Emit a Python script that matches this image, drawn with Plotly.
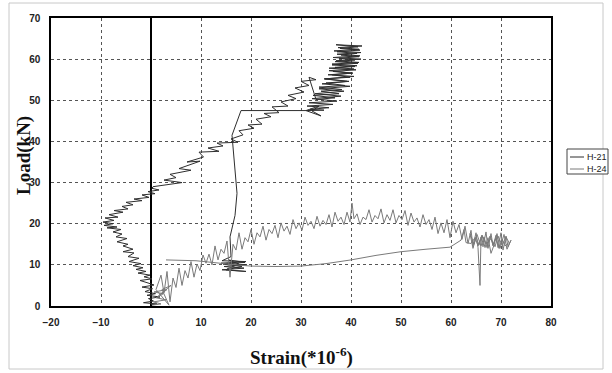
import plotly.graph_objects as go

# ---------------- data ----------------
h21_x = [0, 1.2, -1.5, 0.5, -0.5, 1.8, -0.8, 0.9, -1.2, 0.3, -1.8, 0.6, -0.6, -2.2, 0.2, -1.4, -0.2, -2.6, -1.0, -3.0, -1.6, -3.6, -2.0,
         -4.4, -2.4, -4.6, -3.4, -5.6, -3.6, -5.6, -4.6, -6.8, -4.8, -7.0, -5.8, -7.6, -6.0, -8.8, -6.8, -9.4, -7.6, -9.6, -7.4, -9.2,
         -6.6, -8.4, -5.6, -7.4, -4.6, -5.8, -3.6, -5.0, -1.8, -3.4, -0.4, -1.8, 0.8, -0.6, 1.6, 0.2,
         0.4, 6.2, 2.6, 5.0, 3.8, 8.0, 5.6, 9.8, 7.2, 10.5, 9.6, 13.6, 11.4, 14.4, 13.2, 17.4, 16.0, 18.4, 17.6, 20.6, 19.4, 22.2,
         21.0, 24.0, 22.6, 25.6, 24.2, 27.4, 26.0, 29.0, 27.4, 30.6, 28.8, 31.6, 30.0, 33.0, 31.6,
         33.0, 36.8, 32.4, 37.6, 34.0, 38.2, 33.6, 38.8, 35.0, 39.2, 34.6, 39.8, 36.2, 40.2, 35.6, 40.6, 36.8, 41.2, 36.2, 41.6,
         37.0, 42.0, 36.4, 41.8, 37.2, 42.0, 36.6, 41.6, 37.4, 42.2, 37.0, 41.4, 37.8, 41.8, 37.2, 41.2, 38.0, 41.6, 37.6, 40.8,
         36.8, 41.4, 36.2, 40.8, 35.6, 41.0, 36.4, 40.4, 35.4, 40.6, 34.8, 39.6, 34.2, 39.8, 33.6, 38.6, 32.8, 38.0, 32.2, 37.2,
         31.6, 36.4, 31.2, 35.6, 31.8, 34.6, 31.0, 34.0, 32.2, 33.6, 31.0,
         18.0, 16.2, 17.2, 16.8, 15.8, 16.0,
         14.2, 19.0, 14.0, 19.2, 14.6, 18.6, 14.2, 19.0, 15.0, 18.2, 14.4, 18.8, 15.4, 17.6, 15.2]
h21_y = [0.3, 0.5, 0.8, 1.2, 1.8, 2.2, 2.6, 3.0, 3.5, 4.2, 4.6, 5.1, 5.6, 6.2, 6.6, 7.1, 7.5, 8.0, 8.4, 8.9, 9.3, 9.8, 10.3,
         10.8, 11.6, 12.0, 12.9, 13.2, 13.8, 14.6, 15.0, 15.6, 16.4, 16.8, 17.5, 18.0, 18.6, 19.0, 19.2, 19.6, 20.0, 20.4, 20.8, 21.4,
         21.6, 22.2, 22.8, 23.2, 23.6, 24.2, 24.6, 25.2, 25.6, 26.0, 26.4, 27.0, 27.3, 27.8, 28.2, 28.6,
         29.0, 30.0, 30.6, 31.2, 32.0, 33.0, 33.4, 35.2, 35.0, 36.2, 37.4, 37.6, 38.4, 38.9, 39.6, 39.8, 40.6, 41.6, 42.6, 43.2, 44.0, 44.2,
         45.4, 46.0, 46.8, 47.0, 48.4, 48.6, 49.6, 50.4, 51.2, 52.0, 53.0, 53.6, 54.6, 55.0, 55.6,
         50.2, 50.6, 51.2, 51.6, 52.2, 52.6, 53.2, 53.6, 54.2, 54.6, 55.2, 55.6, 56.2, 56.6, 57.2, 57.6, 58.0, 58.4, 58.8, 59.2,
         59.6, 60.0, 60.4, 60.8, 61.2, 61.6, 62.0, 62.4, 62.8, 63.2, 63.5, 63.0, 62.6, 62.2, 61.8, 61.4, 61.0, 60.6, 60.2, 59.8,
         59.4, 59.0, 58.6, 58.2, 57.8, 57.4, 57.0, 56.6, 56.2, 55.8, 55.2, 54.6, 54.0, 53.4, 52.8, 52.2, 51.6, 51.0, 50.4, 49.8,
         49.4, 49.0, 48.6, 48.2, 47.8, 47.6, 47.5, 46.2, 47.4, 48.6, 47.5,
         47.5, 41.5, 27.4, 22.0, 16.8, 12.0,
         11.0, 10.8, 10.4, 10.0, 9.6, 9.2, 8.8, 8.4, 8.8, 9.6, 10.2, 10.6, 11.2, 10.2, 9.0]

h24_x = [0.2, 2.0, 0.5, 3.0, 1.0, 2.5, 0.6, 3.2, 1.5, 4.0, 2.2, 3.6, 1.0, 2.0, 2.6, 3.2, 3.8, 4.4, 5.0, 5.6, 6.2, 6.8, 7.4, 8.0,
         8.6, 9.2, 9.8, 10.4, 11.0, 11.6, 12.2, 12.8, 13.4, 14.0, 14.6, 15.2, 15.8, 16.4, 17.0, 17.6, 18.2, 18.8, 19.4, 20.0,
         20.6, 21.2, 21.8, 22.4, 23.0, 23.6, 24.2, 24.8, 25.4, 26.0, 26.6, 27.2, 27.8, 28.4, 29.0, 29.6, 30.2, 30.8, 31.4, 32.0,
         32.6, 33.2, 33.8, 34.4, 35.0, 35.6, 36.2, 36.8, 37.4, 38.0, 38.6, 39.2, 39.8, 40.2, 40.6, 41.2, 41.8, 42.4, 43.0, 43.6,
         44.2, 44.8, 45.4, 46.0, 46.6, 47.2, 47.8, 48.4, 49.0, 49.6, 50.2, 50.8, 51.4, 52.0, 52.6, 53.2, 53.8, 54.4, 55.0, 55.6,
         56.2, 56.8, 57.4, 58.0, 58.6, 59.2, 59.8, 60.4, 61.0, 61.6, 62.2, 62.8,
         63.4, 64.0, 64.4, 65.0, 65.4, 65.8, 66.0, 66.4, 67.0, 67.4, 68.0, 68.4, 69.0, 69.4, 70.0, 70.4, 71.0, 71.4, 72.0, 71.2,
         70.6, 69.8, 69.2, 68.6, 68.0, 67.4, 66.8, 66.2, 65.6, 65.0, 64.4, 63.8, 64.6, 65.2, 66.0, 66.6, 67.2, 67.8, 68.4, 69.0,
         69.6, 70.2, 70.8, 71.6, 71.0, 70.2, 69.4, 68.8, 68.0, 67.0, 66.2, 65.4, 64.8, 64.0, 63.0, 62.6, 62.0,
         61.2, 60.4, 59.8, 55.0, 50.0, 45.0, 40.0, 35.0, 30.0, 25.0, 20.0, 17.0, 12.0, 9.0, 3.0]
h24_y = [0.2, 0.5, 1.0, 1.5, 2.0, 3.0, 3.4, 4.0, 2.5, 5.0, 4.0, 0.2, 4.0, 7.5, 3.2, 8.4, 1.0, 6.8, 4.5, 9.2, 5.0, 8.6, 6.8, 10.8,
         7.0, 10.2, 8.6, 12.4, 10.4, 12.6, 10.0, 14.6, 11.2, 13.8, 12.8, 15.8, 7.0, 15.0, 13.6, 17.8, 13.8, 16.6, 15.6, 18.6,
         15.0, 17.8, 16.8, 19.4, 16.0, 18.6, 17.6, 19.6, 16.6, 20.2, 18.2, 19.4, 17.4, 21.0, 18.8, 20.2, 18.4, 21.6, 19.6, 20.6,
         18.8, 21.8, 19.4, 20.8, 19.8, 22.2, 19.2, 22.8, 20.6, 21.6, 19.8, 22.8, 20.4, 25.0, 21.2, 22.4, 19.8, 21.6, 21.0, 23.4,
         20.4, 22.0, 21.2, 23.6, 20.2, 22.2, 20.8, 23.4, 20.2, 22.0, 21.0, 23.2, 19.6, 22.6, 20.4, 21.4, 19.2, 22.2, 19.8, 21.0,
         18.6, 21.6, 17.6, 20.2, 17.8, 21.0, 16.6, 20.6, 17.8, 19.8, 16.2, 19.4,
         15.2, 18.4, 14.6, 17.8, 14.2, 5.0, 16.8, 14.4, 18.0, 14.0, 17.6, 14.6, 17.2, 14.2, 17.8, 13.6, 17.0, 14.4, 16.0, 13.8,
         17.4, 14.0, 17.6, 14.8, 12.8, 16.6, 14.2, 17.2, 14.8, 16.8, 14.0, 17.6, 15.0, 17.4, 14.6, 16.8, 14.2, 17.0, 14.8, 16.6,
         14.0, 16.2, 14.6, 15.4, 16.8, 14.8, 17.0, 14.4, 16.4, 15.0, 17.2, 14.6, 16.6, 15.2, 15.4, 18.6, 16.0,
         15.4, 14.6, 14.3, 13.8, 13.2, 12.3, 11.2, 10.3, 9.7, 9.6, 9.7, 10.0, 10.6, 11.0, 11.2]

series_names = ["H-21", "H-24"]
series_colors = ["#2e2e2e", "#7a7a7a"]

x_ticks = [-20, -10, 0, 10, 20, 30, 40, 50, 60, 70, 80]
y_ticks = [0, 10, 20, 30, 40, 50, 60, 70]

# ---------------- figure ----------------
fig = go.Figure()
for xs, ys, name, col in [(h21_x, h21_y, series_names[0], series_colors[0]),
                          (h24_x, h24_y, series_names[1], series_colors[1])]:
    fig.add_trace(go.Scatter(x=xs, y=ys, mode="lines", name=name,
                             line=dict(color=col, width=1), showlegend=False))

tickfont = dict(family="Liberation Sans, Arial, sans-serif", size=10, color="#222222", weight="bold")
titlefont = dict(family="Liberation Serif, Times New Roman, serif", size=19, color="#111111", weight="bold")

fig.update_layout(
    width=612, height=373,
    margin=dict(l=51, r=61, t=18, b=67),
    paper_bgcolor="white", plot_bgcolor="white",
    xaxis=dict(range=[-20, 80], tickvals=x_ticks, ticks="", tickfont=tickfont,
               showgrid=True, gridcolor="#555555", griddash="dot", gridwidth=1,
               zeroline=True, zerolinecolor="black", zerolinewidth=1.5,
               showline=True, linecolor="black", linewidth=1.5, mirror=True,
               ticklabelstandoff=6),
    yaxis=dict(range=[0, 70], tickvals=y_ticks, ticks="", tickfont=tickfont,
               showgrid=True, gridcolor="#555555", griddash="dot", gridwidth=1,
               zeroline=False,
               showline=True, linecolor="black", linewidth=1.5, mirror=True,
               ticklabelstandoff=7),
)

def px_x(p):
    return (p - 51) / 500

def px_y(p):
    return (306 - p) / 288

# axis titles
fig.add_annotation(xref="paper", yref="paper", x=px_x(301), y=px_y(356),
                   text="Strain(*10<sup>-6</sup>)", showarrow=False,
                   xanchor="center", yanchor="middle", font=titlefont)
fig.add_annotation(xref="paper", yref="paper", x=px_x(24), y=px_y(156),
                   text="Load(kN)", showarrow=False, textangle=-90,
                   xanchor="center", yanchor="middle", font=titlefont)

# outer light frame
fig.add_shape(type="rect", xref="paper", yref="paper",
              x0=px_x(9), x1=px_x(603), y0=px_y(369), y1=px_y(3),
              line=dict(color="#c8c8c8", width=1), fillcolor="rgba(0,0,0,0)", layer="below")

# legend box (drawn manually to fit the narrow right margin)
fig.add_shape(type="rect", xref="paper", yref="paper",
              x0=px_x(567), x1=px_x(608), y0=px_y(174), y1=px_y(149),
              line=dict(color="#444444", width=1), fillcolor="white")
for i, (name, col) in enumerate(zip(series_names, series_colors)):
    yy = 157 + i * 12
    fig.add_shape(type="line", xref="paper", yref="paper",
                  x0=px_x(570), x1=px_x(584), y0=px_y(yy), y1=px_y(yy),
                  line=dict(color=col, width=1))
    fig.add_annotation(xref="paper", yref="paper", x=px_x(585), y=px_y(yy),
                       text=name, showarrow=False, xanchor="left", yanchor="middle",
                       font=dict(family="Liberation Sans, Arial, sans-serif", size=9, color="#222222"))

fig.write_html("out.html")
